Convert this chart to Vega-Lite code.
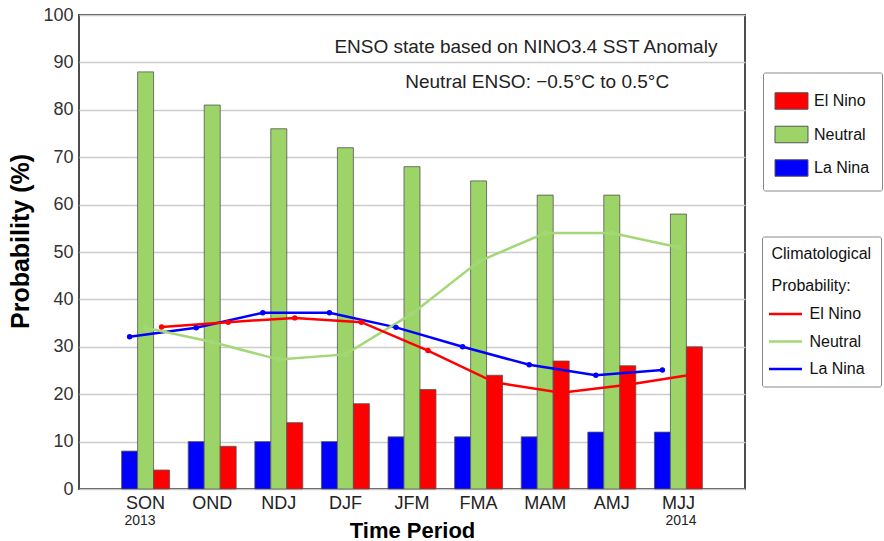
{
  "$schema": "https://vega.github.io/schema/vega-lite/v6.json",
  "width": 666,
  "height": 474,
  "autosize": {"type": "none"},
  "padding": {"left": 79, "top": 15, "right": 139, "bottom": 52},
  "background": "white",
  "config": {
    "font": "Liberation Sans",
    "view": {"stroke": "#4d4d4d", "strokeWidth": 2}
  },
  "datasets": {
    "enso": [
      {"period": "SON", "type": "La Nina", "forecast": 8, "climatology": 32.1},
      {"period": "SON", "type": "Neutral", "forecast": 88, "climatology": 34},
      {"period": "SON", "type": "El Nino", "forecast": 4, "climatology": 34.2},
      {"period": "OND", "type": "La Nina", "forecast": 10, "climatology": 34},
      {"period": "OND", "type": "Neutral", "forecast": 81, "climatology": 31},
      {"period": "OND", "type": "El Nino", "forecast": 9, "climatology": 35.2},
      {"period": "NDJ", "type": "La Nina", "forecast": 10, "climatology": 37.2},
      {"period": "NDJ", "type": "Neutral", "forecast": 76, "climatology": 27.3},
      {"period": "NDJ", "type": "El Nino", "forecast": 14, "climatology": 36.1},
      {"period": "DJF", "type": "La Nina", "forecast": 10, "climatology": 37.2},
      {"period": "DJF", "type": "Neutral", "forecast": 72, "climatology": 28.4},
      {"period": "DJF", "type": "El Nino", "forecast": 18, "climatology": 35.2},
      {"period": "JFM", "type": "La Nina", "forecast": 11, "climatology": 34.1},
      {"period": "JFM", "type": "Neutral", "forecast": 68, "climatology": 37},
      {"period": "JFM", "type": "El Nino", "forecast": 21, "climatology": 29.2},
      {"period": "FMA", "type": "La Nina", "forecast": 11, "climatology": 30},
      {"period": "FMA", "type": "Neutral", "forecast": 65, "climatology": 48},
      {"period": "FMA", "type": "El Nino", "forecast": 24, "climatology": 22.5},
      {"period": "MAM", "type": "La Nina", "forecast": 11, "climatology": 26.2},
      {"period": "MAM", "type": "Neutral", "forecast": 62, "climatology": 54},
      {"period": "MAM", "type": "El Nino", "forecast": 27, "climatology": 20.3},
      {"period": "AMJ", "type": "La Nina", "forecast": 12, "climatology": 24},
      {"period": "AMJ", "type": "Neutral", "forecast": 62, "climatology": 54},
      {"period": "AMJ", "type": "El Nino", "forecast": 26, "climatology": 22},
      {"period": "MJJ", "type": "La Nina", "forecast": 12, "climatology": 25.1},
      {"period": "MJJ", "type": "Neutral", "forecast": 58, "climatology": 51},
      {"period": "MJJ", "type": "El Nino", "forecast": 30, "climatology": 24.2}
    ],
    "notes": [
      {"label": "ENSO state based on NINO3.4 SST Anomaly", "px": 6.71, "py": 91.9},
      {"label": "Neutral ENSO: −0.5°C to 0.5°C", "px": 6.88, "py": 84.5}
    ],
    "years": [
      {"label": "2013", "px": 0.916, "py": -6.75},
      {"label": "2014", "px": 9.04, "py": -6.75}
    ]
  },
  "layer": [
    {
      "data": {"name": "enso"},
      "layer": [
        {
          "mark": {"type": "bar", "stroke": "#555555", "strokeWidth": 1, "strokeOpacity": 0.8},
          "encoding": {
            "x": {
              "field": "period", "type": "nominal",
              "sort": ["SON", "OND", "NDJ", "DJF", "JFM", "FMA", "MAM", "AMJ", "MJJ"],
              "scale": {"paddingInner": 0.28, "paddingOuter": 0.64},
              "axis": {
                "title": "Time Period", "titleFontSize": 22, "titleFontWeight": "bold", "titleColor": "#000000", "titlePadding": 8,
                "labelAngle": 0, "labelFontSize": 18, "labelColor": "#222222", "labelPadding": 5,
                "domain": false, "ticks": false, "grid": false
              }
            },
            "xOffset": {
              "field": "type", "type": "nominal",
              "sort": ["La Nina", "Neutral", "El Nino"],
              "scale": {"paddingInner": 0, "paddingOuter": 0}
            },
            "y": {
              "field": "forecast", "type": "quantitative",
              "scale": {"domain": [0, 100], "nice": false},
              "axis": {
                "title": "Probability (%)", "titleFontSize": 25, "titleFontWeight": "bold", "titleColor": "#000000", "titlePadding": 9, "titleY": 226,
                "values": [0, 10, 20, 30, 40, 50, 60, 70, 80, 90, 100],
                "grid": true, "gridColor": "#cccccc", "gridWidth": 1.5,
                "domain": false, "ticks": false,
                "labelFontSize": 18, "labelColor": "#333333", "labelPadding": 6
              }
            },
            "fill": {
              "field": "type", "type": "nominal",
              "scale": {"domain": ["El Nino", "Neutral", "La Nina"], "range": ["#ff0000", "#9dd467", "#0000ff"]},
              "legend": {
                "orient": "none", "legendX": 684, "legendY": 57.5, "title": null,
                "padding": 12, "strokeColor": "#888888", "cornerRadius": 2, "fillColor": "white",
                "symbolType": "M-1.031,-0.516H1.031V0.516H-1.031Z", "symbolSize": 1024,
                "symbolStrokeColor": "#555555", "symbolStrokeWidth": 1,
                "labelFontSize": 16, "labelOffset": 6, "labelColor": "#111111", "rowPadding": 6.5
              }
            }
          }
        },
        {
          "mark": {"type": "line", "strokeWidth": 2.5, "point": {"filled": true, "size": 30}},
          "encoding": {
            "x": {"field": "period", "type": "nominal", "sort": ["SON", "OND", "NDJ", "DJF", "JFM", "FMA", "MAM", "AMJ", "MJJ"]},
            "xOffset": {"field": "type", "type": "nominal", "sort": ["La Nina", "Neutral", "El Nino"]},
            "y": {"field": "climatology", "type": "quantitative", "scale": {"domain": [0, 100], "nice": false}},
            "color": {
              "field": "type", "type": "nominal",
              "sort": ["El Nino", "Neutral", "La Nina"],
              "scale": {"range": ["#ff0000", "#a3d876", "#0000ff"]},
              "legend": {
                "orient": "none", "legendX": 683, "legendY": 221.5,
                "title": ["Climatological", "Probability:"],
                "titleFontSize": 16, "titleFontWeight": "normal", "titleColor": "#111111", "titleLineHeight": 32, "titlePadding": 6,
                "padding": 9.5, "strokeColor": "#888888", "cornerRadius": 2, "fillColor": "white",
                "symbolType": "M-1.294,0H1.294", "symbolSize": 650, "symbolStrokeWidth": 2.5,
                "labelFontSize": 16, "labelOffset": 10, "labelColor": "#111111", "rowPadding": 5.5
              }
            }
          }
        }
      ]
    },
    {
      "data": {"name": "notes"},
      "mark": {"type": "text", "align": "center", "baseline": "alphabetic", "fontSize": 19, "color": "#222222"},
      "encoding": {
        "x": {"field": "px", "type": "quantitative", "scale": {"domain": [0, 10], "nice": false, "zero": false}, "axis": null},
        "y": {"field": "py", "type": "quantitative", "scale": {"domain": [0, 100], "nice": false}},
        "text": {"field": "label"}
      }
    },
    {
      "data": {"name": "years"},
      "mark": {"type": "text", "align": "center", "baseline": "middle", "fontSize": 14, "color": "#222222"},
      "encoding": {
        "x": {"field": "px", "type": "quantitative", "scale": {"domain": [0, 10], "nice": false, "zero": false}, "axis": null},
        "y": {"field": "py", "type": "quantitative", "scale": {"domain": [0, 100], "nice": false}},
        "text": {"field": "label"}
      }
    }
  ],
  "resolve": {"scale": {"x": "independent"}}
}
